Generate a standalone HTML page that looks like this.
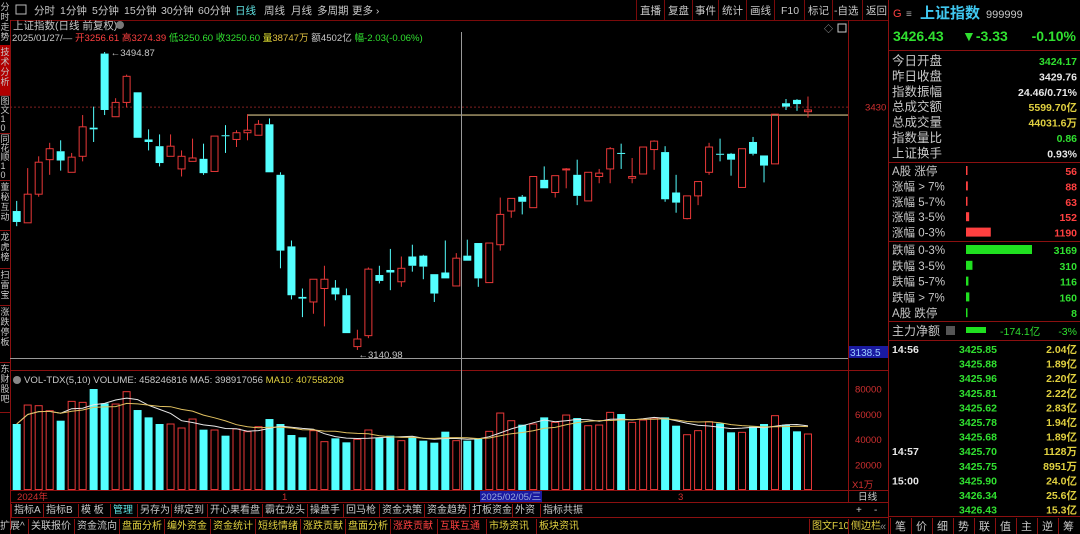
<!DOCTYPE html>
<html><head><meta charset="utf-8">
<style>
html,body{margin:0;padding:0;background:#000;width:1080px;height:534px;overflow:hidden}
svg{display:block}
text{font-family:"Liberation Sans","Noto Sans CJK SC",sans-serif}
</style></head>
<body>
<svg id="root" width="1080" height="534" viewBox="0 0 1080 534" xmlns="http://www.w3.org/2000/svg">
<rect width="1080" height="534" fill="#000"/>
<!-- left vertical tabs -->
<g id="lefttabs" font-size="9" fill="#c8c8c8"></g>
<!-- top toolbar -->
<g font-size="10.5" fill="#c8c8c8">
<line x1="10" y1="20.5" x2="888" y2="20.5" stroke="#7a0a0a"/>
<rect x="16" y="5" width="10" height="9" fill="none" stroke="#bbb"/>
<text x="34" y="14">分时</text>
<text x="60" y="14">1分钟</text>
<text x="92" y="14">5分钟</text>
<text x="124" y="14">15分钟</text>
<text x="161" y="14">30分钟</text>
<text x="198" y="14">60分钟</text>
<text x="235" y="14" fill="#5fe0e0">日线</text>
<text x="264" y="14">周线</text>
<text x="291" y="14">月线</text>
<text x="317" y="14">多周期</text>
<text x="352" y="14">更多 ›</text>
</g>
<g font-size="10.5" fill="#c8c8c8">
<g stroke="#7a0a0a"><line x1="636.5" y1="0" x2="636.5" y2="20"/><line x1="664.5" y1="0" x2="664.5" y2="20"/><line x1="692.5" y1="0" x2="692.5" y2="20"/><line x1="718.5" y1="0" x2="718.5" y2="20"/><line x1="746.5" y1="0" x2="746.5" y2="20"/><line x1="774.5" y1="0" x2="774.5" y2="20"/><line x1="804.5" y1="0" x2="804.5" y2="20"/><line x1="832.5" y1="0" x2="832.5" y2="20"/><line x1="862.5" y1="0" x2="862.5" y2="20"/></g>
<text x="640" y="14">直播</text>
<text x="668" y="14">复盘</text>
<text x="695" y="14">事件</text>
<text x="722" y="14">统计</text>
<text x="750" y="14">画线</text>
<text x="781" y="14">F10</text>
<text x="808" y="14">标记</text>
<text x="834" y="14">-自选</text>
<text x="866" y="14">返回</text>
<text x="824" y="32" font-size="9" fill="#aaa">◇</text>
<rect x="838" y="24" width="8" height="8" fill="none" stroke="#ccc"/>
</g>
<!-- title and info -->
<text x="13" y="29" font-size="10.5" fill="#c8c8c8">上证指数(日线 前复权)</text>
<circle cx="120" cy="25" r="4" fill="#777"/>
<text x="12" y="41" font-size="9.6"><tspan fill="#c8c8c8">2025/01/27/— </tspan><tspan fill="#ff4040">开3256.61 高3274.39 </tspan><tspan fill="#30e030">低3250.60 收3250.60 </tspan><tspan fill="#e0e030">量</tspan><tspan fill="#e0c040">38747万 </tspan><tspan fill="#c8c8c8">额4502亿 </tspan><tspan fill="#30e030">幅-2.03(-0.06%)</tspan></text>
<!-- chart frame -->
<g stroke="#8b1010" fill="none">
<line x1="848.5" y1="20" x2="848.5" y2="502"/>
<line x1="10" y1="370.5" x2="888" y2="370.5"/>
<line x1="10" y1="490.5" x2="888" y2="490.5"/>
<line x1="10" y1="502.5" x2="888" y2="502.5"/>
<line x1="888.5" y1="0" x2="888.5" y2="534"/>
<line x1="10.5" y1="20" x2="10.5" y2="534"/>
</g>
<g id="main"></g>
<g id="vol"></g>
<text x="24" y="383" font-size="9.6"><tspan fill="#c8c8c8">VOL-TDX(5,10) VOLUME: 458246816 MA5: 398917056 </tspan><tspan fill="#e0d040">MA10: 407558208</tspan></text>
<circle cx="17" cy="380" r="4" fill="#888"/>
<!-- date axis -->
<g font-size="9.6" fill="#d03030">
<text x="17" y="500">2024年</text>
<text x="282" y="500">1</text>
<rect x="480" y="491" width="62" height="11" fill="#1a1aa0"/>
<text x="481" y="500" fill="#9ad">2025/02/05/三</text>
<text x="678" y="500">3</text>
<text x="858" y="500" fill="#c8c8c8">日线</text>
</g>
<!-- bottom rows -->
<g id="row1" font-size="10" fill="#c8c8c8"></g>
<g id="row2" font-size="10" fill="#c8c8c8"></g>
<!-- right panel -->
<g>
<text x="893" y="17" font-size="11" fill="#ff4040">G</text>
<text x="906" y="17" font-size="10" fill="#aaa">≡</text>
<text x="920" y="18" font-size="15" fill="#40c8f0" font-weight="bold">上证指数</text>
<text x="986" y="18" font-size="11" fill="#c8c8c8">999999</text>
<g font-size="14" font-weight="bold" fill="#30e030">
<text x="893" y="41">3426.43</text><text x="962" y="41">▼-3.33</text><text x="1076" y="41" text-anchor="end">-0.10%</text></g>
<g stroke="#8b1010"><line x1="888" y1="50.5" x2="1080" y2="50.5"/><line x1="888" y1="162.5" x2="1080" y2="162.5"/><line x1="888" y1="241.5" x2="1080" y2="241.5"/><line x1="888" y1="321.5" x2="1080" y2="321.5"/><line x1="888" y1="340.5" x2="1080" y2="340.5"/><line x1="888" y1="516.5" x2="1080" y2="516.5"/></g>
<g id="stats" font-size="12"></g>
<g id="ticks" font-size="10.5" font-weight="bold"></g>
<g id="icons" font-size="11" fill="#c8c8c8"></g>
</g>
</svg>
<script>
// ---- candlestick data ----
const opens  = [3306,3292,3326,3367,3377,3352,3371,3405,3493,3418,3435,3447,3391,3383,3371,3356,3365,3368,3353,3396,3391,3399,3396,3409,3349,3264,3204,3198,3214,3215,3206,3145,3158,3230,3236,3222,3252,3253,3231,3233,3217,3253,3268,3221,3266,3306,3323,3310,3343,3328,3355.5,3349,3318,3347,3356,3375,3345,3350,3379,3376,3328,3297,3324,3352,3374,3374,3334,3388,3372,3362,3434,3438,3424];
const closes = [3293,3326,3364,3380,3366,3370,3406,3403,3426,3435,3466,3393,3388,3363,3383,3371,3369,3351,3395,3395,3399,3402,3409,3352,3259,3206,3202,3225,3225,3207,3161,3154,3237,3223,3233,3238,3241,3240,3208,3226,3250,3247,3226,3268,3302,3321,3317,3347,3333,3348,3356,3324,3352,3351,3380,3374,3347,3382,3389,3320,3316,3324,3341,3382,3373,3367,3380,3374,3360,3421,3430,3433,3426];
const highs  = [3318,3357,3371,3387,3390,3375,3420,3430,3494.87,3440,3468,3447,3403,3397,3397,3378,3392,3386,3395,3408,3402,3421,3414,3416,3352,3271,3214,3225,3241,3224,3214,3165,3239,3241,3261,3252,3266,3254,3231,3271,3256,3272,3268,3268,3322,3321,3325,3347,3359,3348,3357,3367,3352,3356,3382,3386,3369,3382,3390,3383,3349,3324,3341,3387,3392,3375,3380,3394,3372,3421,3439,3439,3442];
const lows   = [3288,3292,3323,3349,3354,3352,3365,3388,3420,3418,3429,3393,3378,3359,3371,3347,3365,3349,3353,3375,3382,3390,3396,3352,3238,3201,3180,3184,3169,3200,3161,3140.98,3155,3220,3212,3216,3234,3225,3198,3226,3217,3247,3216,3221,3259,3298,3302,3310,3333,3322,3333,3313,3318,3339,3339,3356,3339,3350,3355,3317,3304,3296,3313,3349,3365,3348,3334,3372,3340,3362,3426,3425,3417];
// ---- volume data (万) ----
const volumes = [51970,66900,66380,62440,54570,69790,69010,79510,68220,67690,77410,62970,57190,51970,51970,48820,55880,47510,47240,42780,48030,45930,49870,55880,51970,43300,41470,46720,38060,40680,37530,39900,47240,40940,42780,38850,41990,38850,37270,45930,38850,38850,40160,46190,60600,54570,51420,51970,57190,53250,59030,56660,50630,51160,61130,59810,53250,55090,56660,57190,50630,43540,46720,53780,52460,45400,45400,49870,51970,58530,51420,46190,44090];
const volTicks = [80000,60000,40000,20000];
const priceLabels = [3430];
const lowLabel = "3140.98", highLabel = "3494.87";

const NS="http://www.w3.org/2000/svg";
function mk(tag,attrs,parent){const e=document.createElementNS(NS,tag);for(const k in attrs)e.setAttribute(k,attrs[k]);parent.appendChild(e);return e;}
const xOf=i=>16.7+i*10.99;
const yP=p=>52+(3494.87-p)*0.842;
const yV=v=>490-v*0.00127;
const RED="#e83838", CY="#54ffff";
const main=document.getElementById('main');

// reference lines
let l=mk('line',{x1:10,x2:848,y1:yP(3430)+0.5,y2:yP(3430)+0.5,stroke:"#802020","stroke-dasharray":"2,2"},main);


l=mk('line',{x1:xOf(21),x2:848,y1:yP(3420),y2:yP(3420),stroke:"#b0a070","stroke-width":1.4},main);


l=mk('line',{x1:461.5,x2:461.5,y1:32,y2:490,stroke:"#999"},main);


l=mk('line',{x1:10,x2:848,y1:358.5,y2:358.5,stroke:"#999"},main);



opens.forEach((o,i)=>{
  const c=closes[i],up=c>=o,col=up?RED:CY,x=xOf(i);
  const g=mk('g',{},main);
  
  
  const top=yP(Math.max(o,c)),bot=yP(Math.min(o,c));
  mk('line',{x1:x,x2:x,y1:yP(highs[i]),y2:top,stroke:col},g);
  mk('line',{x1:x,x2:x,y1:bot,y2:yP(lows[i]),stroke:col},g);
  const h=Math.max(bot-top,1);
  if(up) mk('rect',{x:x-3.5,y:top,width:7,height:h,fill:"none",stroke:col},g);
  else mk('rect',{x:x-4,y:top,width:8,height:h,fill:col},g);
});
// hi/lo annotations
let hi=highs.indexOf(Math.max(...highs)), lo=lows.indexOf(Math.min(...lows));
let t=mk('text',{x:xOf(hi)+6,y:yP(highs[hi])+4,"font-size":9.6,fill:"#c8c8c8"},main);t.textContent="←"+highLabel;


t=mk('text',{x:xOf(lo)+1,y:yP(lows[lo])+8,"font-size":9.6,fill:"#c8c8c8"},main);t.textContent="←"+lowLabel;


priceLabels.forEach(p=>{const e=mk('text',{x:865,y:yP(p)+4,"font-size":9.6,fill:"#d03030"},main);e.textContent=p;

});
let bx=mk('rect',{x:849,y:346,width:39,height:12,fill:"#1a1aa0"},main);


t=mk('text',{x:850,y:356,"font-size":10,fill:"#9cf"},main);t.textContent="3138.5";



// volume
const vol=document.getElementById('vol');
volTicks.forEach(v=>{const e=mk('text',{x:855,y:yV(v)+4,"font-size":9.6,fill:"#d03030"},vol);e.textContent=v;

});
t=mk('text',{x:852,y:488,"font-size":9.6,fill:"#d03030"},vol);t.textContent="X1万";


volumes.forEach((v,i)=>{
  const up=closes[i]>=opens[i],x=xOf(i),y=yV(v);
  const r=up?mk('rect',{x:x-3.5,y:y,width:7,height:489.5-y,fill:"none",stroke:RED},vol):mk('rect',{x:x-4,y:y,width:8,height:490-y,fill:CY},vol);
  
  
});
function ma(n){return volumes.map((v,i)=>{const s=volumes.slice(Math.max(0,i-n+1),i+1);return s.reduce((a,b)=>a+b,0)/s.length;});}
[[5,"#e8e8e8","ma5-line"],[10,"#e0c060","ma10-line"]].forEach(([n,c,nm])=>{
  const pts=ma(n).map((v,i)=>xOf(i).toFixed(1)+","+yV(v).toFixed(1)).join(" ");
  const p=mk('polyline',{points:pts,fill:"none",stroke:c,"stroke-width":1},vol);
  
  
});

// left tabs
const lt=document.getElementById('lefttabs');
[["分时走势",0,45],["技术分析",45,95],["图文10",95,133],["同花顺10",133,180],["董秘互动",180,230],["龙虎榜",230,268],["扫雷宝",268,305],["涨跌停板",305,362],["东财股吧",362,412]].forEach(([s,a,b],k)=>{
  if(k==1) mk('rect',{x:0,y:a,width:10,height:b-a,fill:"#b00000"},lt);
  mk('line',{x1:0,x2:10,y1:b+0.5,y2:b+0.5,stroke:"#8b1010"},lt);
  const chars=[...s];const step=Math.min(10,(b-a-2)/chars.length);
  chars.forEach((ch,j)=>{const e=mk('text',{x:0.5,y:a+step*(j+1),"font-size":9},lt);e.textContent=ch;});
  lt.lastChild.parentNode;
});

// bottom rows
const r1=document.getElementById('row1');
mk('line',{x1:10,x2:888,y1:517.5,y2:517.5,stroke:"#8b1010"},r1);
[["指标A",14],["指标B",46],["模 板",81],["管理",113],["另存为",140],["绑定到",174],["开心果看盘",210],["霸在龙头",265],["操盘手",310],["回马枪",346],["资金决策",382],["资金趋势",427],["打板资金",472],["外资",515],["指标共振",543]].forEach(([s,x],k)=>{
  const e=mk('text',{x:x,y:513,fill:k==3?"#5fe0e0":"#c8c8c8"},r1);e.textContent=s;
  
  
  mk('line',{x1:x-2.5,x2:x-2.5,y1:504,y2:517,stroke:"#8b1010"},r1);
});
let e2=mk('text',{x:856,y:513},r1);e2.textContent="+";


e2=mk('text',{x:874,y:513},r1);e2.textContent="-";


const r2=document.getElementById('row2');
[["扩展^",0,"#c8c8c8"],["关联报价",31,"#c8c8c8"],["资金流向",77,"#c8c8c8"],["盘面分析",122,"#e0d040"],["编外资金",167,"#e0d040"],["资金统计",213,"#e0d040"],["短线情绪",258,"#e0d040"],["涨跌贡献",303,"#e0d040"],["盘面分析",348,"#e0d040"],["涨跌贡献",393,"#ff4040"],["互联互通",440,"#ff4040"],["市场资讯",489,"#e0d040"],["板块资讯",539,"#e0d040"],["图文F10",812,"#e0d040"],["侧边栏",851,"#e0d040"]].forEach(([s,x,c])=>{
  const e=mk('text',{x:x,y:529,fill:c},r2);e.textContent=s;
  
  
  if(x>0) mk('line',{x1:x-2.5,x2:x-2.5,y1:519,y2:534,stroke:"#8b1010"},r2);
});

// stats panel
const st=document.getElementById('stats');
const labelsA=["今日开盘","昨日收盘","指数振幅","总成交额","总成交量","指数量比","上证换手"];
const valsA=["3424.17","3429.76","24.46/0.71%","5599.70亿","44031.6万","0.86","0.93%"];
const colsA=["#30e030","#e8e8e8","#e8e8e8","#e0d040","#e0d040","#30e030","#e8e8e8"];
labelsA.forEach((s,k)=>{const y=65+k*15.4;
  let e=mk('text',{x:892,y:y,fill:"#c8c8c8","font-size":12.5},st);e.textContent=s;
  e=mk('text',{x:1077,y:y,"text-anchor":"end",fill:colsA[k],"font-size":10.5,"font-weight":"bold"},st);e.textContent=valsA[k];
  
  });
const labelsB=["A股 涨停","涨幅 > 7%","涨幅 5-7%","涨幅 3-5%","涨幅 0-3%","跌幅 0-3%","跌幅 3-5%","跌幅 5-7%","跌幅 > 7%","A股 跌停"];
const countsB=[56,88,63,152,1190,3169,310,116,160,8];
countsB.forEach((n,k)=>{const y=(k<5?175:254)+(k%5)*15.4+(k>=5?(k-5)*0.4:0);const up=k<5;const col=up?"#ff4040":"#30e030";
  let e=mk('text',{x:892,y:y,fill:"#c8c8c8","font-size":11.5},st);e.textContent=labelsB[k];
  const w=Math.max(1.5,n/3169*66);
  e=mk('rect',{x:966,y:y-9,width:w,height:9,fill:up?"#ff4040":"#20e020"},st);
  
  
  e=mk('text',{x:1077,y:y,"text-anchor":"end",fill:col,"font-size":10.5,"font-weight":"bold"},st);e.textContent=n;});
let m=mk('text',{x:892,y:335,fill:"#c8c8c8","font-size":12},st);m.textContent="主力净额";
mk('rect',{x:946,y:326,width:9,height:9,fill:"#555"},st);
mk('rect',{x:966,y:327,width:20,height:6,fill:"#20e020"},st);
m=mk('text',{x:1000,y:335,fill:"#30e030","font-size":10.5},st);m.textContent="-174.1亿";
m=mk('text',{x:1077,y:335,"text-anchor":"end",fill:"#30e030","font-size":10.5},st);m.textContent="-3%";

// ticks
const tk=document.getElementById('ticks');
const tTimes=["14:56","","","","","","","14:57","","15:00","",""];
const tPrices=["3425.85","3425.88","3425.96","3425.81","3425.62","3425.78","3425.68","3425.70","3425.75","3425.90","3426.34","3426.43"];
const tVols=["2.04亿","1.89亿","2.20亿","2.22亿","2.83亿","1.94亿","1.89亿","1128万","8951万","24.0亿","25.6亿","15.3亿"];
tPrices.forEach((p,k)=>{const y=353+k*14.6;
  if(tTimes[k]){let e=mk('text',{x:892,y:y,fill:"#e8e8e8"},tk);e.textContent=tTimes[k];}
  let e=mk('text',{x:997,y:y,"text-anchor":"end",fill:"#30e030"},tk);e.textContent=p;
  e=mk('text',{x:1077,y:y,"text-anchor":"end",fill:"#e0d040"},tk);e.textContent=tVols[k];
  
  });
// icons
const ic=document.getElementById('icons');
["笔","价","细","势","联","值","主","逆","筹"].forEach((s,k)=>{const x=895+k*21;
  let e=mk('text',{x:x,y:530},ic);e.textContent=s;
  
  
  mk('line',{x1:x-4.5,x2:x-4.5,y1:518,y2:534,stroke:"#8b1010"},ic);});
let e3=mk('text',{x:880,y:530,fill:"#888"},ic);e3.textContent="«";
</script>
</body></html>
